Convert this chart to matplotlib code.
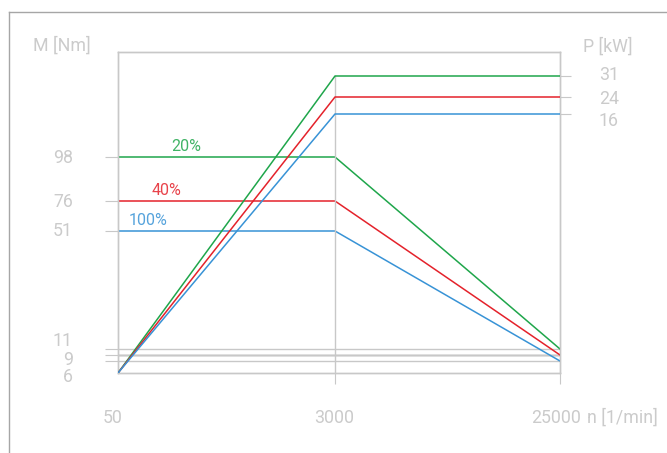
import matplotlib
matplotlib.use("Agg")
import matplotlib.pyplot as plt
import matplotlib.transforms as mtransforms
import numpy as np

# speed points [1/min]
speed = [50, 3000, 25000]

# torque curves [Nm] per duty cycle
torque_20 = [98, 98, 11]
torque_40 = [76, 76, 9]
torque_100 = [51, 51, 6]

# power curves [kW] per duty cycle
power_20 = [0, 31, 31]
power_40 = [0, 24, 24]
power_100 = [0, 16, 16]

duty_labels = ["20%", "40%", "100%"]
torque_ticks = [6, 9, 11, 51, 76, 98]
power_ticks = [16, 24, 31]

GREEN = "#1fa64b"
RED = "#e4222b"
BLUE = "#3893d6"
GRID = "#c8c8c8"
TXT = "#cbcbcb"
FS = 12.8

# schematic (piecewise linear) axis scales
X_KNOTS = ([50, 3000, 25000], [0, 217, 442])
M_KNOTS = ([0, 6, 9, 11, 51, 76, 98, 150], [0, 12, 18, 24, 142, 172, 216, 321])
P_KNOTS = ([0, 16, 24, 31, 40], [0, 259, 276, 297, 321])


def piecewise(knots):
    vals, pos = np.asarray(knots[0], float), np.asarray(knots[1], float)
    fwd = lambda v: np.interp(v, vals, pos)
    inv = lambda p: np.interp(p, pos, vals)
    return fwd, inv


def shift(label, dx, dy):
    label.set_transform(label.get_transform() + mtransforms.ScaledTranslation(dx / 100, dy / 100, fig.dpi_scale_trans))


plt.rcParams['font.family'] = ['Roboto', 'DejaVu Sans']

W, H = 667, 453
fig = plt.figure(figsize=(W / 100, H / 100), dpi=100)
ax = fig.add_axes([118 / W, (H - 373) / H, (560 - 118) / W, (373 - 52) / H])
ax2 = ax.twinx()

for a, knots in ((ax, M_KNOTS), (ax2, P_KNOTS)):
    a.set_xscale('function', functions=piecewise(X_KNOTS))
    a.set_yscale('function', functions=piecewise(knots))
    a.set_xlim(50, 25000)
    a.set_ylim(knots[0][0], knots[0][-1])
    for s in a.spines.values():
        s.set_color(GRID)
        s.set_linewidth(1.0)

# horizontal guides for the high-speed torque values
for v in (11, 9, 6):
    ax.axhline(v, color=GRID, lw=1.0, zorder=1)
ax.axhline(9, color="#e2e2e2", lw=2.0, zorder=0.9)

# vertical guide at base speed
ax2.plot([3000, 3000], [0, 31], color=GRID, lw=1.0, zorder=1)

colors = [GREEN, RED, BLUE]
torques = [torque_20, torque_40, torque_100]
powers = [power_20, power_40, power_100]
label_dx = [68, 48, 30]
for c, tq, pw, lab, dx in zip(colors, torques, powers, duty_labels, label_dx):
    ax.plot(speed, tq, color=c, lw=1.1, zorder=3)
    ax2.plot(speed, pw, color=c, lw=1.1, zorder=3)
    ax.annotate(lab, (speed[0], tq[0]), xytext=(dx, 3), textcoords='offset pixels',
                ha='center', va='bottom', color=c, fontsize=11.5, alpha=0.85)

# x axis
ax.set_xticks(speed)
ax.set_xticklabels(["50", "3000", "25000"])
ax.tick_params(axis='x', length=8, color=GRID, pad=18, labelsize=FS, labelcolor=TXT)
ax.xaxis.get_major_ticks()[0].tick1line.set_visible(False)
for t, dx in zip(ax.xaxis.get_majorticklabels(), (-5, -1, -4)):
    shift(t, dx, 0)
ax2.tick_params(axis='x', length=0)

# torque axis
ax.set_yticks(torque_ticks)
ax.set_yticklabels([str(v) for v in torque_ticks])
ax.tick_params(axis='y', length=9.5, color=GRID, pad=23, labelsize=FS, labelcolor=TXT)
m_shift = {6: -14, 9: -3, 11: 10, 51: 2, 76: 1, 98: 1}
for t, v in zip(ax.yaxis.get_majorticklabels(), torque_ticks):
    shift(t, 0, m_shift[v])

# power axis
ax2.set_yticks(power_ticks)
ax2.set_yticklabels([str(v) for v in power_ticks])
ax2.tick_params(axis='y', length=8, color=GRID, pad=20, labelsize=FS, labelcolor=TXT)
p_shift = {16: -5, 24: 0, 31: 3}
for t, v in zip(ax2.yaxis.get_majorticklabels(), power_ticks):
    shift(t, 0, p_shift[v])

# axis titles
fig.text(62 / W, 1 - 46 / H, "M [Nm]", ha='center', va='center', color=TXT, fontsize=FS)
fig.text(608 / W, 1 - 47 / H, "P [kW]", ha='center', va='center', color=TXT, fontsize=FS)
fig.text(587 / W, 1 - 418 / H, "n [1/min]", ha='left', va='center', color=TXT, fontsize=FS)

# outer frame (top and left edges)
fig.add_artist(plt.Line2D([9 / W, 1], [1 - 12 / H, 1 - 12 / H], color="#a6a6a6", lw=1.0))
fig.add_artist(plt.Line2D([9 / W, 9 / W], [0, 1 - 12 / H], color="#a6a6a6", lw=1.0))

fig.savefig("out.png", dpi=100)
